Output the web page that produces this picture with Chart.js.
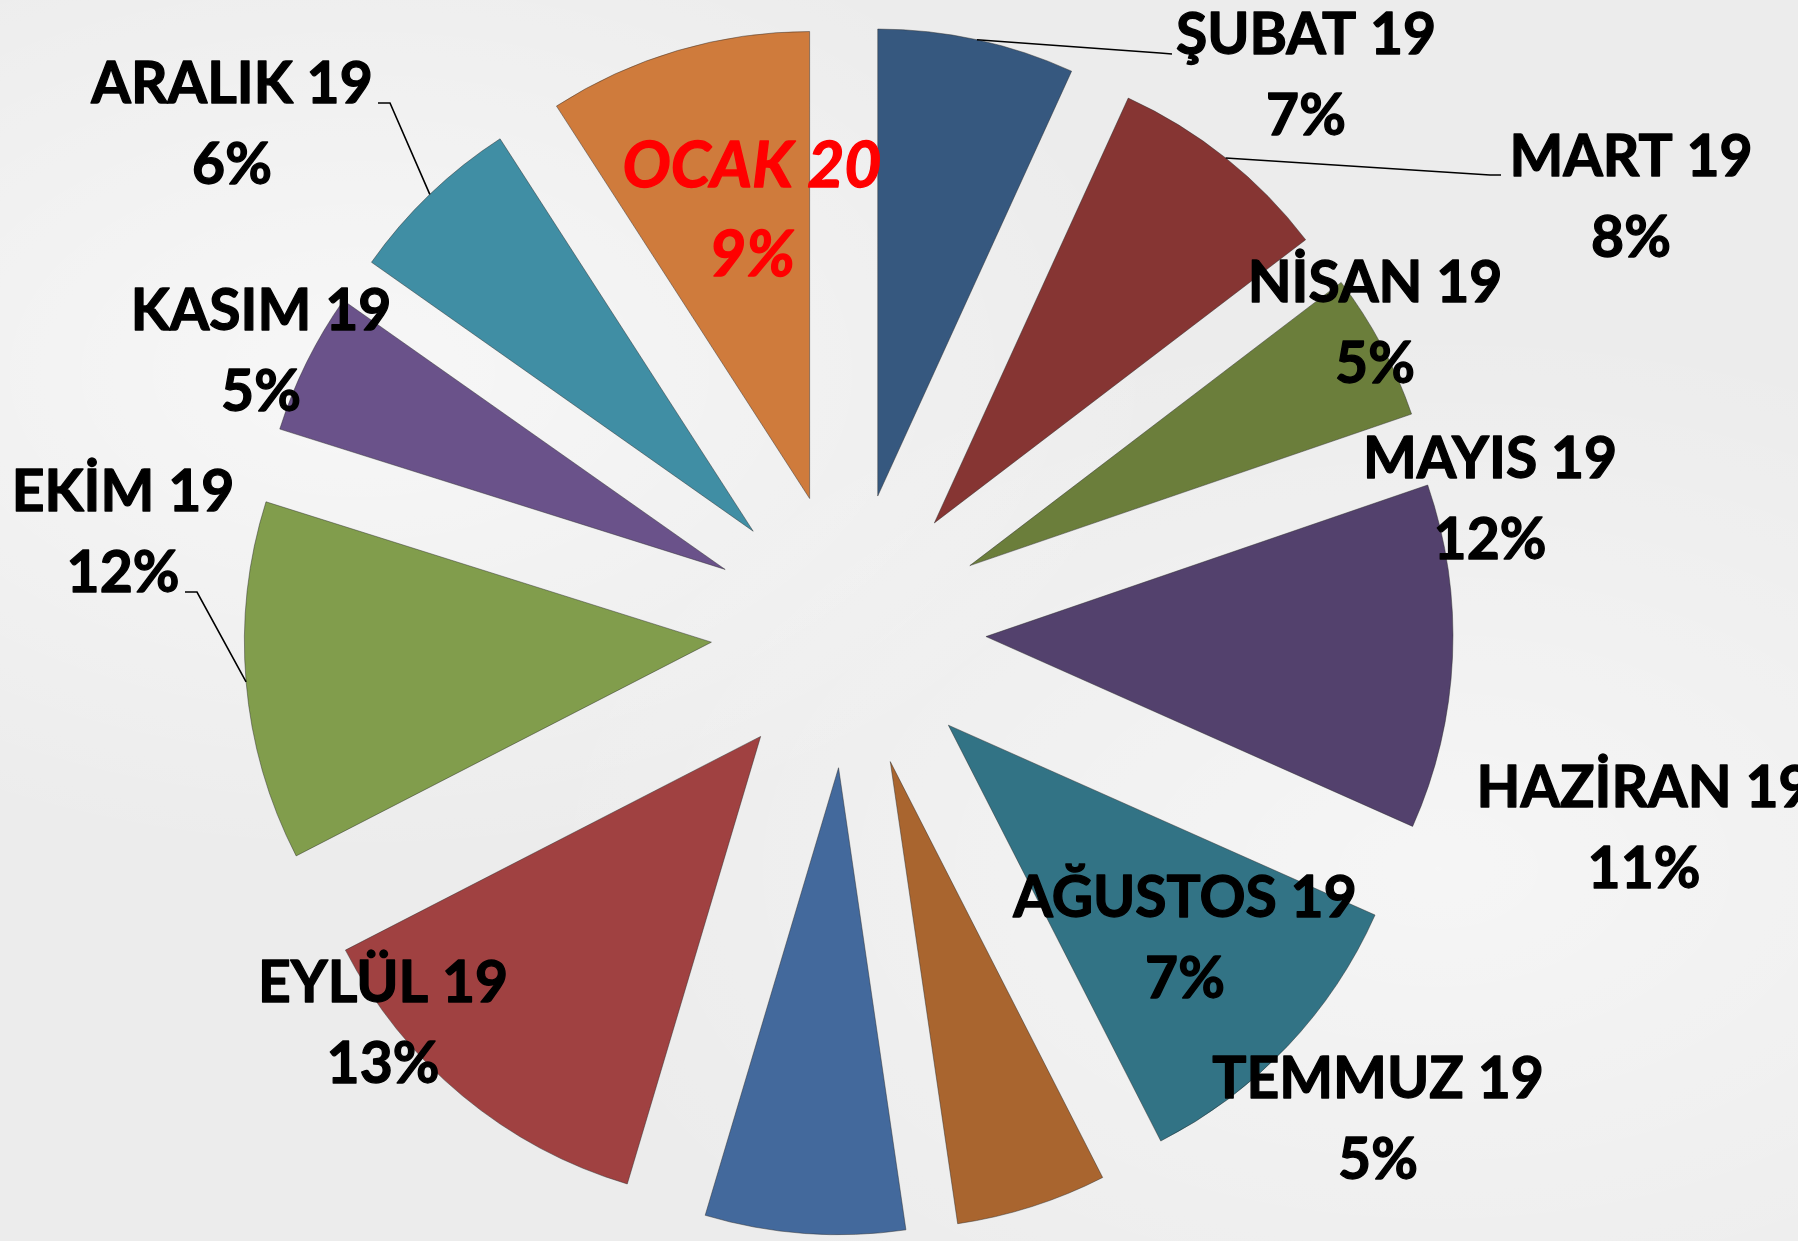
<!DOCTYPE html>
<html>
<head>
<meta charset="utf-8">
<script src="https://cdn.jsdelivr.net/npm/chart.js@4.4.1/dist/chart.umd.min.js"></script>
<style>
  html, body { margin: 0; padding: 0; background: #eeeeee; }
  #wrap { width: 1798px; height: 1241px; position: relative; overflow: hidden;
    background:
      radial-gradient(ellipse at 20% 30%, rgba(255,255,255,0.6), rgba(255,255,255,0) 40%),
      radial-gradient(ellipse at 80% 70%, rgba(255,255,255,0.5), rgba(255,255,255,0) 45%),
      #ececec; }
  canvas { display: block; }
</style>
</head>
<body>
<div id="wrap"><canvas id="c" width="1798" height="1241"></canvas></div>
<script>
// ---- data ----
const categories = ['ŞUBAT 19', 'MART 19', 'NİSAN 19', 'MAYIS 19', 'HAZİRAN 19', 'TEMMUZ 19',
                    'AĞUSTOS 19', 'EYLÜL 19', 'EKİM 19', 'KASIM 19', 'ARALIK 19', 'OCAK 20'];
const values = [6.8, 7.8, 5.1, 11.9, 10.8, 5.2, 6.9, 12.8, 12.4, 4.9, 6.1, 9.1];

// ---- styles ----
const sliceColors = ['#36587f', '#863533', '#6b7e3b', '#53416d', '#327385', '#a9652f',
                     '#43699c', '#a04141', '#819d4c', '#6a528a', '#408ea4', '#cf7b3c'];
const EXPLODE = 137.6;
const RADIUS = 467;
const FONT_SIZE = 57;
const HIGHLIGHT_FONT_SIZE = 64;
const LINE_GAP = 81;
const HIGHLIGHT_LINE_GAP = 89;
// label layout: [centerX, firstBaselineY] in canvas pixels
const labelPos = [[1306, 54], [1631, 176], [1375, 302], [1490, 478], [1644, 807], [1378, 1098],
                  [1185, 917], [383, 1002], [123, 511], [261, 330], [232, 103], [752, 187]];
// leader lines: label-side end point and elbow
const leaders = { 0: [[1172, 54], [1160, 53]], 1: [[1501, 175], [1490, 175]],
                  10: [[378, 103], [390, 103]], 8: [[185, 592], [197, 592]] };
const highlight = 11; // OCAK 20 drawn in red italic

const explodePlugin = {
  id: 'explode',
  beforeDatasetsDraw(chart) {
    const a = chart.chartArea;
    const cx = (a.left + a.right) / 2, cy = (a.top + a.bottom) / 2;
    chart.getDatasetMeta(0).data.forEach(arc => {
      const mid = (arc.startAngle + arc.endAngle) / 2;
      arc.x = cx + Math.cos(mid) * EXPLODE;
      arc.y = cy + Math.sin(mid) * EXPLODE;
    });
  }
};

const labelPlugin = {
  id: 'sliceLabels',
  afterDatasetsDraw(chart) {
    const ctx = chart.ctx;
    const meta = chart.getDatasetMeta(0);
    const total = values.reduce((s, v) => s + v, 0);
    ctx.save();
    // leader lines
    ctx.strokeStyle = '#000';
    ctx.lineWidth = 1.6;
    Object.keys(leaders).forEach(k => {
      const arc = meta.data[k];
      const mid = (arc.startAngle + arc.endAngle) / 2;
      const ex = arc.x + Math.cos(mid) * arc.outerRadius;
      const ey = arc.y + Math.sin(mid) * arc.outerRadius;
      const [end, elbow] = leaders[k];
      ctx.beginPath();
      ctx.moveTo(ex, ey);
      ctx.lineTo(elbow[0], elbow[1]);
      ctx.lineTo(end[0], end[1]);
      ctx.stroke();
    });
    // texts
    ctx.textAlign = 'center';
    ctx.textBaseline = 'alphabetic';
    ctx.lineJoin = 'round';
    ctx.lineWidth = 1.3;
    categories.forEach((name, i) => {
      const pct = Math.round(values[i] / total * 100) + '%';
      const [x, y] = labelPos[i];
      let gap = LINE_GAP;
      let color = '#000000';
      if (i === highlight) {
        color = '#ff0000';
        ctx.font = 'italic bold ' + HIGHLIGHT_FONT_SIZE + 'px Lato';
        gap = HIGHLIGHT_LINE_GAP;
      } else {
        ctx.font = 'bold ' + FONT_SIZE + 'px Lato';
      }
      ctx.fillStyle = color;
      ctx.strokeStyle = color;
      ctx.fillText(name, x, y);
      ctx.strokeText(name, x, y);
      ctx.fillText(pct, x, y + gap);
      ctx.strokeText(pct, x, y + gap);
    });
    ctx.restore();
  }
};

function build() {
  new Chart(document.getElementById('c'), {
    type: 'pie',
    data: {
      labels: categories,
      datasets: [{
        data: values,
        backgroundColor: sliceColors,
        borderColor: 'rgba(40,40,40,0.45)',
        borderWidth: 1,
        radius: RADIUS,
        clip: false
      }]
    },
    options: {
      responsive: false,
      animation: false,
      events: [],
      layout: { padding: { left: 0, right: 101, top: 20, bottom: 0 } },
      plugins: { legend: { display: false }, tooltip: { enabled: false } }
    },
    plugins: [explodePlugin, labelPlugin]
  });
}
Promise.all([
  document.fonts.load('bold 57px Lato'),
  document.fonts.load('italic bold 64px Lato')
]).then(build, build);
</script>
</body>
</html>
